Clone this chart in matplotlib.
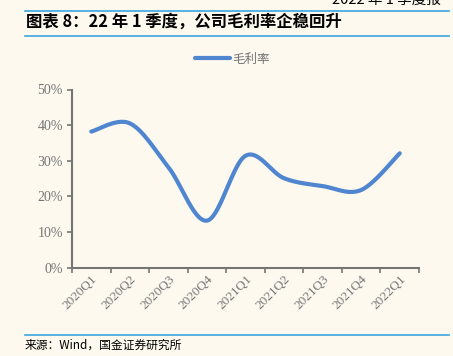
import matplotlib.pyplot as plt
from matplotlib.lines import Line2D
import numpy as np

##########Data
quarters = ['2020Q1', '2020Q2', '2020Q3', '2020Q4', '2021Q1',
            '2021Q2', '2021Q3', '2021Q4', '2022Q1']
gross_margin = [38.2, 40.5, 28.2, 13.2, 31.4, 25.1, 22.9, 21.8, 32.1]
yticks = [0, 10, 20, 30, 40, 50]
#####
bg = '#FDF9EF'
blue_rule = '#3AA6E0'
line_color = '#4F86CF'
gray = '#757575'
cjk = ['Noto Sans CJK SC', 'DejaVu Sans']
serif = ['Liberation Serif', 'DejaVu Serif']


def smooth(x, y, n=30):
    # Excel style smoothed line (bezier through points)
    x = np.asarray(x, float)
    y = np.asarray(y, float)
    xs, ys = [], []
    for i in range(len(x) - 1):
        p0 = (x[max(i - 1, 0)], y[max(i - 1, 0)])
        p1 = (x[i], y[i])
        p2 = (x[i + 1], y[i + 1])
        p3 = (x[min(i + 2, len(x) - 1)], y[min(i + 2, len(x) - 1)])
        c1 = (p1[0] + (p2[0] - p0[0]) / 6, p1[1] + (p2[1] - p0[1]) / 6)
        c2 = (p2[0] - (p3[0] - p1[0]) / 6, p2[1] - (p3[1] - p1[1]) / 6)
        t = np.linspace(0, 1, n)
        bx = (1 - t) ** 3 * p1[0] + 3 * (1 - t) ** 2 * t * c1[0] + 3 * (1 - t) * t ** 2 * c2[0] + t ** 3 * p2[0]
        by = (1 - t) ** 3 * p1[1] + 3 * (1 - t) ** 2 * t * c1[1] + 3 * (1 - t) * t ** 2 * c2[1] + t ** 3 * p2[1]
        xs.extend(bx)
        ys.extend(by)
    return np.array(xs), np.array(ys)


#####
fig = plt.figure(figsize=(4.53, 3.56), dpi=100, facecolor=bg)
W, H = 453, 356

# header rules and title
fig.add_artist(Line2D([25 / W, 449 / W], [1 - 10.5 / H, 1 - 10.5 / H], color=blue_rule, lw=1.2))
fig.add_artist(Line2D([25 / W, 449 / W], [1 - 36 / H, 1 - 36 / H], color=blue_rule, lw=1.2))
fig.text(26 / W, 1 - 22 / H, '图表 8：22 年 1 季度，公司毛利率企稳回升', family=cjk,
         fontsize=11.8, fontweight='bold', style='italic', va='center', ha='left')
fig.text(332 / W, 1 - 1 / H, '2022 年 1 季度报', family=cjk, fontsize=10.5,
         va='center', ha='left')

# footer
fig.add_artist(Line2D([25 / W, 449 / W], [1 - 335 / H, 1 - 335 / H], color=blue_rule, lw=1.2))
fig.text(25 / W, 1 - 345.5 / H, '来源：Wind，国金证券研究所', family=cjk, fontsize=8.5,
         va='center', ha='left')

#####
ax = fig.add_axes([72 / W, 1 - 267.7 / H, (419 - 72) / W, (267.7 - 89.5) / H])
ax.set_facecolor(bg)
x = np.arange(len(quarters))
sx, sy = smooth(x, gross_margin)
ax.plot(sx, sy, color=line_color, lw=3, solid_capstyle='round', label='毛利率')

ax.set_xlim(-0.5, len(quarters) - 0.5)
ax.set_ylim(0, 50)
ax.set_yticks(yticks)
ax.set_yticklabels([f'{v}%' for v in yticks], family=serif, fontsize=10, color=gray)
ax.set_xticks(np.arange(-0.5, len(quarters), 1))
ax.set_xticklabels([])
ax.set_xticks(x, minor=True)
ax.set_xticklabels(quarters, minor=True, rotation=45, ha='right', va='top',
                   rotation_mode='anchor', family=serif, fontsize=9.5, color=gray)
ax.tick_params(axis='x', which='minor', length=0, pad=4)
ax.tick_params(axis='both', which='major', direction='out', length=3.5, width=1.2, color=gray)
ax.tick_params(axis='y', pad=3)
for s in ['top', 'right']:
    ax.spines[s].set_visible(False)
for s in ['left', 'bottom']:
    ax.spines[s].set_color(gray)
    ax.spines[s].set_linewidth(1.5)

leg = ax.legend(loc='center', bbox_to_anchor=((232 - 72) / (419 - 72), 1 + (89.5 - 59) / (267.7 - 89.5)),
                frameon=False, handlelength=2.8, handletextpad=0.2, prop={'family': cjk, 'size': 9})
for t in leg.get_texts():
    t.set_color(gray)

plt.savefig('out.png', dpi=100, facecolor=bg)
